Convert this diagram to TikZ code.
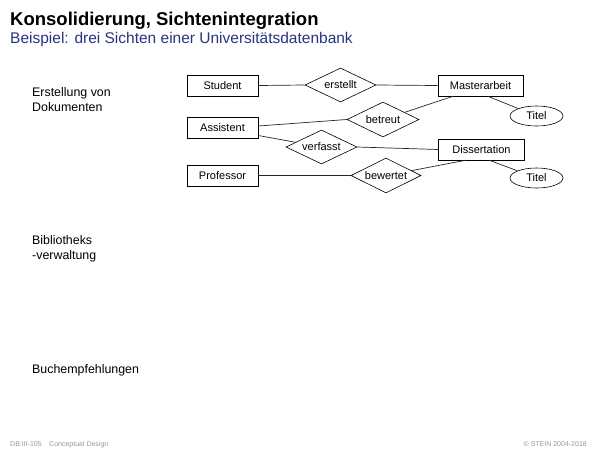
\documentclass[tikz,border=0pt]{standalone}
\usepackage{fontspec}
\setmainfont{Liberation Sans}
\usetikzlibrary{shapes.geometric}
\definecolor{subblue}{RGB}{40,52,128}
\definecolor{footgrey}{RGB}{150,150,150}
\begin{document}
\begin{tikzpicture}[x=1pt,y=-1pt,
  entity/.style={draw=black,line width=0.6pt,rectangle,inner sep=0pt,
    font=\fontsize{11}{13}\selectfont},
  relation/.style={draw=black,line width=0.6pt,diamond,aspect=2.1,inner sep=0pt,
    minimum width=71pt,minimum height=34pt,font=\fontsize{11}{13}\selectfont},
  attribute/.style={draw=black,line width=0.6pt,ellipse,inner sep=0pt,
    minimum width=53pt,minimum height=20pt,font=\fontsize{11}{13}\selectfont},
  link/.style={draw=black!85,line width=0.7pt},
  side/.style={anchor=base west,inner sep=0pt,font=\fontsize{12.4}{15}\selectfont},
  foot/.style={inner sep=0pt,text=footgrey,font=\fontsize{7}{8}\selectfont}]
\useasboundingbox (0,0) rectangle (600,450);

% headings
\node[anchor=base west,inner sep=0pt,font=\fontsize{18.5}{22}\selectfont\bfseries]
  (title) at (10,25.5) {Konsolidierung, Sichtenintegration};
\node[anchor=base west,inner sep=0pt,text=subblue,font=\fontsize{15.5}{18}\selectfont]
  (subtitle) at (10,43.5) {Beispiel: drei Sichten einer Universitätsdatenbank};

% view labels
\node[side] (v1a) at (32,96) {Erstellung von};
\node[side] (v1b) at (32,111) {Dokumenten};
\node[side] (v2a) at (32,244) {Bibliotheks};
\node[side] (v2b) at (32,259.5) {-verwaltung};
\node[side] (v3) at (32,373) {Buchempfehlungen};

% entities
\node[entity,minimum width=71pt,minimum height=21pt] (student) at (222.5,85.5) {Student};
\node[entity,minimum width=71pt,minimum height=21pt] (assistent) at (222.5,128) {Assistent};
\node[entity,minimum width=71pt,minimum height=21pt] (professor) at (222.5,175.5) {Professor};
\node[entity,minimum width=85pt,minimum height=21pt] (master) at (480.5,85.5) {Masterarbeit};
\node[entity,minimum width=86pt,minimum height=21pt] (diss) at (481.5,149.5) {Dissertation};

% relationships
\node[relation] (erstellt) at (340.5,85) {erstellt};
\node[relation,minimum width=72pt,minimum height=35pt] (betreut) at (383,119.5) {betreut};
\node[relation] (verfasst) at (321.5,147) {verfasst};
\node[relation,minimum width=70pt,minimum height=35pt] (bewertet) at (386,175.5) {bewertet};

% attributes
\node[attribute] (titel1) at (536.5,116) {Titel};
\node[attribute] (titel2) at (536.5,178) {Titel};

% connectors
\draw[link] (student.east) -- (erstellt.west);
\draw[link] (erstellt.east) -- (master.west);
\draw[link] ([yshift=2pt]assistent.east) -- (betreut.west);
\draw[link] ([xshift=-27.5pt]master.south) -- (betreut);
\draw[link] ([yshift=-7.5pt]assistent.east) -- (verfasst);
\draw[link] (verfasst.east) -- (diss.west);
\draw[link] (professor.east) -- (bewertet.west);
\draw[link] ([xshift=-16pt]diss.south) -- (bewertet);
\draw[link] ([xshift=7.5pt]master.south) -- (titel1);
\draw[link] ([xshift=8pt]diss.south) -- (titel2);

% footer
\node[foot,anchor=base west] (f1) at (10,446.5) {DB:III-105};
\node[foot,anchor=base west] (f2) at (49,446.5) {Conceptual Design};
\node[foot,anchor=base east] (f3) at (587,446.5) {© STEIN 2004-2018};
\end{tikzpicture}
\end{document}
